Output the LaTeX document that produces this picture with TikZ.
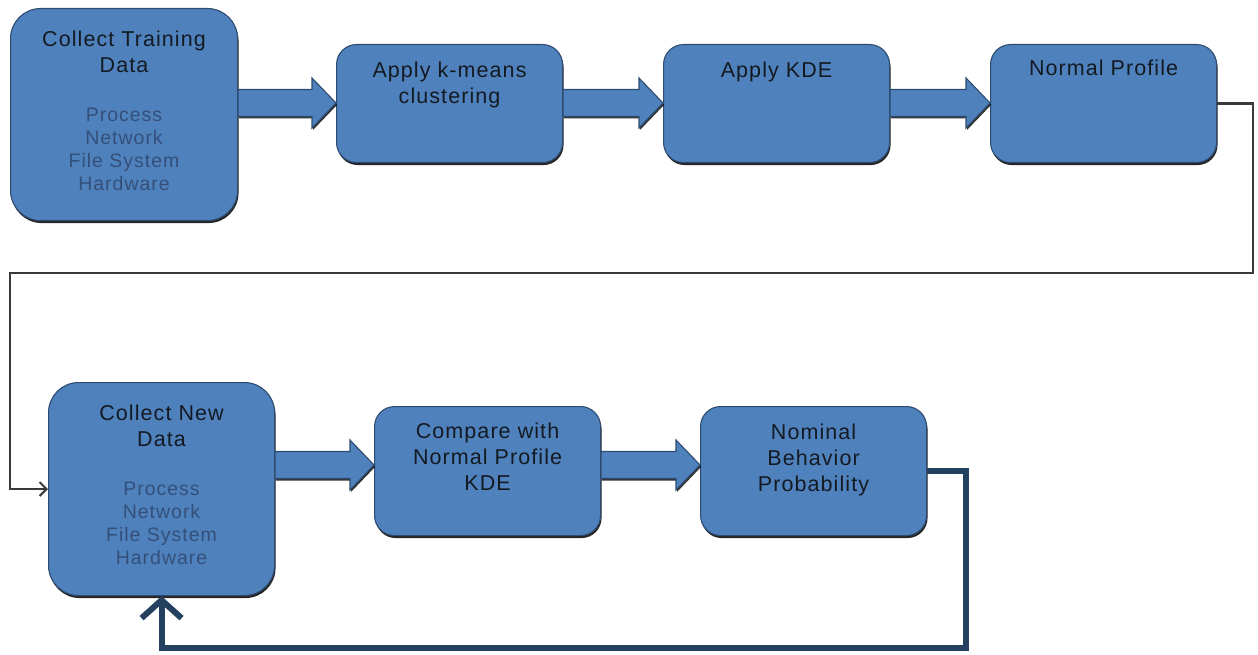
\documentclass[tikz,border=0pt]{standalone}
\usepackage{fontspec}
\setmainfont{Liberation Sans}
\newfontfamily\ttlfont[LetterSpace=5]{Liberation Sans}
\usetikzlibrary{calc,arrows.meta,shadows}
\definecolor{boxfill}{HTML}{4F81BD}
\definecolor{boxedge}{HTML}{2E4B70}
\definecolor{subtxt}{HTML}{34507A}
\definecolor{ttltxt}{HTML}{141A22}
\definecolor{conncol}{HTML}{3A3A3A}
\definecolor{fbcol}{HTML}{24405F}
\tikzset{
  box/.style={draw=boxedge, line width=1.1pt, fill=boxfill, rounded corners=#1,
    anchor=north west, inner sep=0pt,
    drop shadow={shadow xshift=1pt, shadow yshift=-2.5pt, fill=black, opacity=0.85}},
  box/.default=20pt,
  ttl/.style={anchor=north, inner sep=0pt, align=center, text=ttltxt,
    font={\ttlfont\fontsize{21.5}{26}\selectfont}},
  sub/.style={anchor=north, inner sep=0pt, align=center, text=subtxt,
    font={\ttlfont\fontsize{19.5}{23}\selectfont}},
  barrow/.style={draw=boxedge, line width=1.1pt, fill=boxfill, line join=miter,
    drop shadow={shadow xshift=1pt, shadow yshift=-2pt, fill=black, opacity=0.8}},
  conn/.style={draw=conncol, line width=2.6pt, -{Straight Barb[length=7pt,width=14pt,line width=2pt]}},
  fb/.style={draw=fbcol, line width=6pt, -{Straight Barb[length=18pt,width=40pt,line width=6pt]}}
}
\newcommand\blockarr[3]{%
  \draw[barrow] let \p1=(#1.east), \p2=(#2.west), \n1={-#3} in
    (\x1,\n1 pt+13.5pt) -- (\x2-24pt,\n1 pt+13.5pt) -- (\x2-24pt,\n1 pt+25pt) --
    (\x2,\n1 pt) -- (\x2-24pt,\n1 pt-25pt) -- (\x2-24pt,\n1 pt-13.5pt) --
    (\x1,\n1 pt-13.5pt) -- cycle;}
\begin{document}
\begin{tikzpicture}[x=1pt,y=-1pt]
\useasboundingbox (0,0) rectangle (1258,655);
% boxes
\node[box=30pt, minimum width=227pt, minimum height=212pt] (b1) at (10,8) {};
\node[box, minimum width=226pt, minimum height=118pt] (b2) at (336,44) {};
\node[box, minimum width=226pt, minimum height=118pt] (b3) at (663,44) {};
\node[box, minimum width=226pt, minimum height=118pt] (b4) at (990,44) {};
\node[box=30pt, minimum width=226pt, minimum height=213pt] (b5) at (48,382) {};
\node[box, minimum width=226pt, minimum height=129pt] (b6) at (374,406) {};
\node[box, minimum width=226pt, minimum height=129pt] (b7) at (700,406) {};
% texts
\node[ttl] (t1) at ($(b1.north)+(0,23)$) {Collect Training\\Data};
\node[sub] (s1) at ($(b1.north)+(0,100)$) {Process\\Network\\File System\\Hardware};
\node[ttl] (t2) at ($(b2.north)+(0,18)$) {Apply k-means\\clustering};
\node[ttl] (t3) at ($(b3.north)+(0,18)$) {Apply KDE};
\node[ttl] (t4) at ($(b4.north)+(0,16)$) {Normal Profile};
\node[ttl] (t5) at ($(b5.north)+(0,23)$) {Collect New\\Data};
\node[sub] (s5) at ($(b5.north)+(0,100)$) {Process\\Network\\File System\\Hardware};
\node[ttl] (t6) at ($(b6.north)+(0,17)$) {Compare with\\Normal Profile\\KDE};
\node[ttl] (t7) at ($(b7.north)+(0,18)$) {Nominal\\Behavior\\Probability};
% block arrows
\blockarr{b1}{b2}{103}
\blockarr{b2}{b3}{103}
\blockarr{b3}{b4}{103}
\blockarr{b5}{b6}{465}
\blockarr{b6}{b7}{465}
% connectors
\coordinate (rt) at (1253,273);
\coordinate (lt) at (10,273);
\draw[conn] (b4.east) -| (rt) -- (lt) |- (b5.west);
\coordinate (fbr) at (966,648);
\draw[fb] (b7.east) -| (fbr) -| (b5.south);
\end{tikzpicture}
\end{document}
